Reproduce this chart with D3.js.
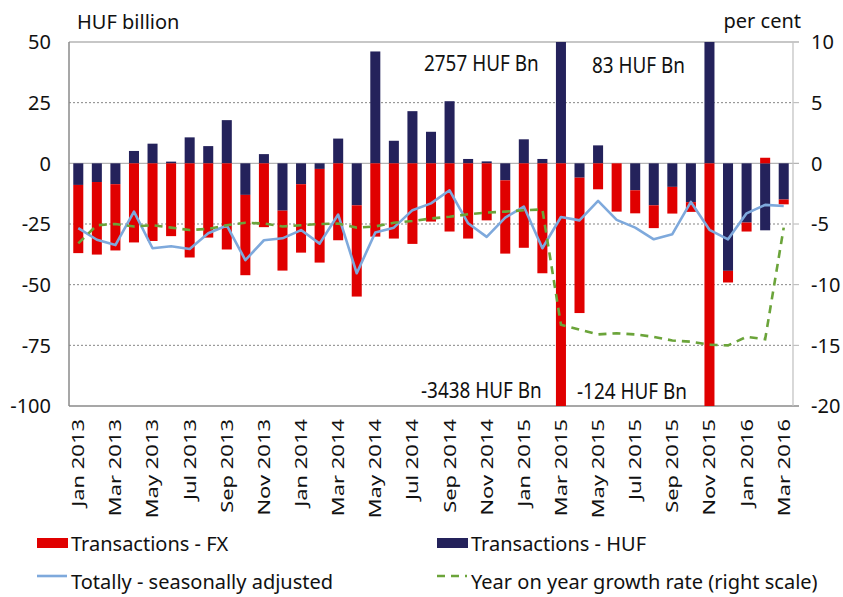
<!DOCTYPE html>
<html><head><meta charset="utf-8">
<script src="https://cdn.jsdelivr.net/npm/d3@7"></script>
<style>
html,body{margin:0;padding:0;background:#fff;}
svg{display:block;font-family:"Noto Sans",sans-serif;}
</style></head>
<body>
<svg id="chart" width="843" height="597"></svg>
<script>
const categories = ["Jan 2013","Feb 2013","Mar 2013","Apr 2013","May 2013","Jun 2013","Jul 2013","Aug 2013","Sep 2013","Oct 2013","Nov 2013","Dec 2013",
"Jan 2014","Feb 2014","Mar 2014","Apr 2014","May 2014","Jun 2014","Jul 2014","Aug 2014","Sep 2014","Oct 2014","Nov 2014","Dec 2014",
"Jan 2015","Feb 2015","Mar 2015","Apr 2015","May 2015","Jun 2015","Jul 2015","Aug 2015","Sep 2015","Oct 2015","Nov 2015","Dec 2015",
"Jan 2016","Feb 2016","Mar 2016"];
const fxValues = [-28.1,-29.9,-27.3,-32.6,-32.0,-30.0,-38.8,-30.6,-35.5,-33.1,-26.3,-24.7,
-28.2,-38.6,-31.7,-37.6,-30.2,-31.0,-33.2,-24.0,-28.1,-31.0,-23.5,-30.2,
-34.8,-45.3,-3438,-55.8,-10.7,-19.9,-9.5,-9.4,-11.0,-4.0,-124,-4.8,
-3.7,2.3,-2.0];
const hufValues = [-8.9,-7.7,-8.6,5.1,8.1,0.7,10.7,7.1,17.8,-13.0,3.8,-19.5,
-8.6,-2.3,10.2,-17.3,46.1,9.3,21.5,13.0,25.6,1.8,0.8,-7.0,
9.9,1.8,2757,-5.9,7.4,0,-11.1,-17.3,-9.7,-16.0,83,-44.3,
-24.4,-27.6,-14.9];
const totalSA = [-26.7,-31.5,-33.7,-19.9,-35.0,-34.2,-35.3,-28.8,-25.6,-39.9,-31.7,-30.9,
-27.5,-33.1,-21.1,-45.3,-28.5,-26.5,-19.3,-16.5,-11.1,-24.7,-30.3,-22.4,
-17.8,-35.0,-22.1,-23.5,-15.5,-23.3,-26.5,-31.3,-29.2,-15.9,-27.4,-31.3,
-20.6,-17.1,-17.6];
const yoyGrowth = [-6.6,-5.1,-5.0,-5.2,-5.1,-5.3,-5.5,-5.4,-5.1,-4.9,-4.96,-5.2,
-5.1,-5.0,-4.96,-5.3,-5.2,-4.9,-4.75,-4.55,-4.4,-4.2,-4.06,-3.98,
-3.87,-3.8,-13.3,-13.7,-14.1,-14.0,-14.1,-14.3,-14.6,-14.7,-14.95,-15.0,
-14.3,-14.5,-5.3];
const leftTicks = [-100,-75,-50,-25,0,25,50];
const rightTicks = [-20,-15,-10,-5,0,5,10];
const annotations = [
  {text:"2757 HUF Bn", x:424, y:71},
  {text:"83 HUF Bn", x:592, y:73},
  {text:"-3438 HUF Bn", x:421, y:398},
  {text:"-124 HUF Bn", x:577, y:399}
];
const legendItems = [
  {label:"Transactions - FX", type:"rect", color:"#E00000", x:37, y:538},
  {label:"Transactions - HUF", type:"rect", color:"#24225B", x:437, y:538},
  {label:"Totally - seasonally adjusted", type:"line", color:"#7EA9DC", x:37, y:576},
  {label:"Year on year growth rate (right scale)", type:"dash", color:"#6BA43A", x:437, y:576}
];

const svg = d3.select("#chart");
const L = 69, R = 793, T = 42, B = 406;

const x = d3.scaleBand().domain(categories).range([L, R]).paddingInner(0.46).paddingOuter(0.23);
const y = d3.scaleLinear().domain([-100, 50]).range([B, T]);
const y2 = d3.scaleLinear().domain([-20, 10]).range([B, T]);

// clip
svg.append("defs").append("clipPath").attr("id","plot")
  .append("rect").attr("x", L).attr("y", T).attr("width", R-L).attr("height", B-T);

// gridlines
const grid = svg.append("g");
leftTicks.forEach(t => {
  const yy = y(t);
  if (t === 50 || t === -100 || t === 0) {
    grid.append("line").attr("x1", L).attr("x2", R + 6).attr("y1", yy).attr("y2", yy)
      .attr("stroke", t === -100 ? "#8a8a8a" : "#b4b4b4").attr("stroke-width", t === 50 ? 1.5 : 1.3);
  } else {
    grid.append("line").attr("x1", L).attr("x2", R).attr("y1", yy).attr("y2", yy)
      .attr("stroke", "#777").attr("stroke-width", 0.9).attr("stroke-dasharray", "2,2");
    grid.append("line").attr("x1", R).attr("x2", R + 6).attr("y1", yy).attr("y2", yy)
      .attr("stroke", "#b4b4b4").attr("stroke-width", 1);
  }
});

// bars (diverging stack)
const rows = categories.map((c, i) => ({cat: c, HUF: hufValues[i], FX: fxValues[i]}));
const stack = d3.stack().keys(["HUF", "FX"]).offset(d3.stackOffsetDiverging)(rows);
const colors = {HUF: "#24225B", FX: "#E00000"};
const barsG = svg.append("g").attr("clip-path", "url(#plot)");
stack.forEach(layer => {
  barsG.selectAll(null).data(layer).enter().append("rect")
    .attr("x", d => x(d.data.cat))
    .attr("width", x.bandwidth())
    .attr("y", d => y(Math.max(d[0], d[1])))
    .attr("height", d => Math.abs(y(d[0]) - y(d[1])))
    .attr("fill", colors[layer.key]);
});

// axes frame lines
svg.append("line").attr("x1", L).attr("x2", L).attr("y1", T).attr("y2", B).attr("stroke", "#8a8a8a").attr("stroke-width", 1.5);
svg.append("line").attr("x1", R).attr("x2", R).attr("y1", T).attr("y2", B).attr("stroke", "#c4c4c4").attr("stroke-width", 1.3);

// lines
const cx = c => x(c) + x.bandwidth() / 2;
const lineG = svg.append("g").attr("clip-path", "url(#plot)");
lineG.append("path").datum(totalSA)
  .attr("d", d3.line().x((d, i) => cx(categories[i])).y(d => y(d)))
  .attr("fill", "none").attr("stroke", "#7EA9DC").attr("stroke-width", 2.6).attr("stroke-linejoin", "round");
lineG.append("path").datum(yoyGrowth)
  .attr("d", d3.line().x((d, i) => cx(categories[i])).y(d => y2(d)))
  .attr("fill", "none").attr("stroke", "#6BA43A").attr("stroke-width", 2.6).attr("stroke-dasharray", "8,6");

// left axis labels
svg.append("g").selectAll("text").data(leftTicks).enter().append("text")
  .attr("x", 51).attr("y", d => y(d)).attr("dy", "0.36em")
  .attr("text-anchor", "end").attr("font-size", 20).attr("fill", "#111")
  .text(d => d);
// right axis labels
svg.append("g").selectAll("text").data(rightTicks).enter().append("text")
  .attr("x", 811).attr("y", d => y2(d)).attr("dy", "0.36em")
  .attr("text-anchor", "start").attr("font-size", 20).attr("fill", "#111")
  .text(d => d);

// x labels
svg.append("g").selectAll("text").data(categories.filter((c, i) => i % 2 === 0)).enter().append("text")
  .attr("transform", d => `translate(${cx(d)},419) rotate(-90) scale(1.33,1)`)
  .attr("text-anchor", "end").attr("dy", "0.36em")
  .attr("font-size", 16.5).attr("fill", "#111")
  .text(d => d);

// unit labels
svg.append("text").attr("x", 77).attr("y", 29).attr("font-size", 20).attr("fill", "#111").text("HUF billion");
svg.append("text").attr("x", 801).attr("y", 28).attr("text-anchor", "end").attr("font-size", 20).attr("fill", "#111").text("per cent");

// annotations
svg.append("g").selectAll("text").data(annotations).enter().append("text")
  .attr("transform", d => `translate(${d.x},${d.y}) scale(0.9,1)`)
  .attr("font-size", 21).attr("fill", "#111")
  .text(d => d.text);

// legend
const lg = svg.append("g");
legendItems.forEach(it => {
  if (it.type === "rect") {
    lg.append("rect").attr("x", it.x).attr("y", it.y).attr("width", 31).attr("height", 10).attr("fill", it.color);
  } else if (it.type === "line") {
    lg.append("line").attr("x1", it.x).attr("x2", it.x + 30).attr("y1", it.y).attr("y2", it.y)
      .attr("stroke", it.color).attr("stroke-width", 2.6);
  } else {
    lg.append("line").attr("x1", it.x).attr("x2", it.x + 30).attr("y1", it.y).attr("y2", it.y)
      .attr("stroke", it.color).attr("stroke-width", 2.6).attr("stroke-dasharray", "8,6");
  }
  lg.append("text").attr("x", it.x + 34).attr("y", it.y + 13).attr("font-size", 20).attr("fill", "#111").text(it.label);
});
</script>
</body></html>
